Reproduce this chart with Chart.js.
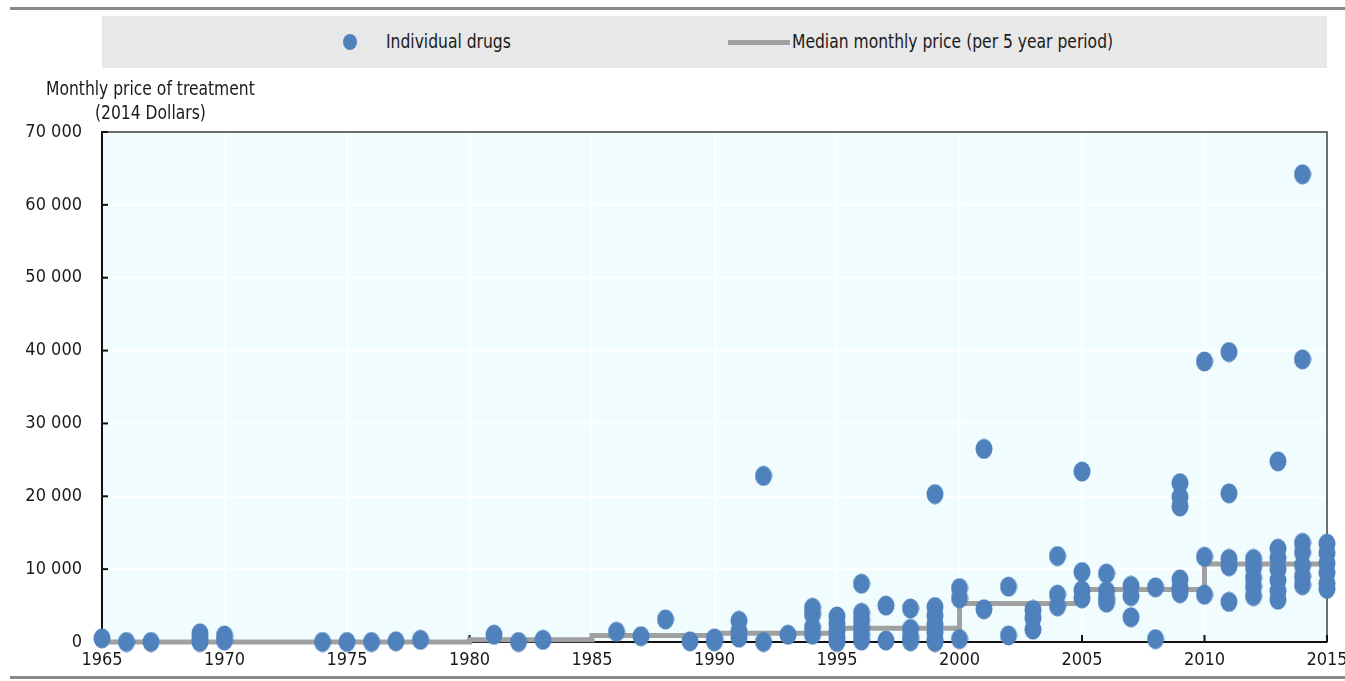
<!DOCTYPE html>
<html>
<head>
<meta charset="utf-8">
<script src="https://cdn.jsdelivr.net/npm/chart.js@4/dist/chart.umd.min.js"></script>
<style>
    body { margin: 0; background: #fff; font-family: "Liberation Sans Narrow", "DejaVu Sans Condensed", "Liberation Sans", sans-serif; color: #1a1a1a; }
    #wrap { position: absolute; left: 0; top: 0; width: 1345px; height: 681px; }
    .rule { position: absolute; left: 10px; right: 0; height: 3px; background: #8a8a8a; }
    .box { position: absolute; }
    .lbl { position: absolute; white-space: nowrap; font-size: 19px; transform: scaleX(0.91); transform-origin: 0 0; }
</style>
</head>
<body>
<div id="wrap">
    <canvas id="priceChart"></canvas>
</div>
<div class="rule" style="top:7px"></div>
<div class="rule" style="top:676px"></div>
<!-- legend -->
<div class="box" style="left:102px;top:16px;width:1225px;height:52px;background:#e8e8e8"></div>
<div class="box" style="left:343px;top:34px;width:14px;height:16px;border-radius:50%;background:#4f81bd"></div>
<div class="lbl" style="left:386px;top:30px">Individual drugs</div>
<div class="box" style="left:728px;top:40px;width:62px;height:5px;background:#a0a0a0"></div>
<div class="lbl" style="left:792px;top:30px">Median monthly price (per 5 year period)</div>
<!-- y axis title -->
<div class="lbl" style="left:46px;top:77px">Monthly price of treatment</div>
<div class="lbl" style="left:95px;top:101px">(2014 Dollars)</div>

<script>
// Launch year and monthly price (2014 USD) of each drug
const drugYears = [
    1965, 1966, 1967, 1969, 1969, 1969, 1970, 1970,
    1974, 1975, 1976, 1977, 1978,
    1981, 1982, 1983, 1986, 1987, 1988, 1989, 1990, 1990,
    1991, 1991, 1991, 1992, 1992, 1993,
    1994, 1994, 1994, 1994,
    1995, 1995, 1995, 1995, 1995,
    1996, 1996, 1996, 1996, 1996, 1996,
    1997, 1997, 1998, 1998, 1998, 1998,
    1999, 1999, 1999, 1999, 1999, 1999, 1999,
    2000, 2000, 2000, 2001, 2001, 2002, 2002,
    2003, 2003, 2003, 2004, 2004, 2004,
    2005, 2005, 2005, 2005, 2006, 2006, 2006, 2006,
    2007, 2007, 2007, 2008, 2008,
    2009, 2009, 2009, 2009, 2009, 2009,
    2010, 2010, 2010, 2011, 2011, 2011, 2011, 2011,
    2012, 2012, 2012, 2012, 2012,
    2013, 2013, 2013, 2013, 2013, 2013, 2013,
    2014, 2014, 2014, 2014, 2014, 2014, 2014,
    2015, 2015, 2015, 2015, 2015, 2015
];
const drugPrices = [
    500, 0, 0, 1200, 600, 0, 900, 200,
    0, 0, 0, 100, 300,
    1000, 0, 300, 1400, 800, 3100, 100, 500, 100,
    2900, 1500, 600, 22800, 0, 1000,
    4700, 3800, 2000, 1000,
    3500, 2500, 1500, 600, 0,
    8000, 4000, 3000, 2000, 1000, 200,
    5000, 200, 4600, 1800, 700, 100,
    20300, 4800, 3600, 2400, 1300, 300, 0,
    7400, 6000, 400, 26500, 4500, 7600, 900,
    4400, 3300, 1700, 11800, 6500, 4900,
    23400, 9600, 7100, 6000, 9400, 7000, 6000, 5400,
    7700, 6300, 3400, 7500, 400,
    21800, 19900, 18600, 8600, 7400, 6700,
    38500, 11700, 6500, 39800, 20400, 11400, 10400, 5500,
    11400, 10200, 8800, 7600, 6300,
    24800, 12800, 11500, 10000, 8500, 7000, 5800,
    64200, 38800, 13600, 12300, 10500, 9000, 7800,
    13500, 12200, 10800, 9500, 8000, 7300
];

// Median monthly price, one value per 5 year period (step starts)
const medianYears = [1965, 1970, 1975, 1980, 1985, 1990, 1995, 2000, 2005, 2010, 2015];
const medianPrices = [0, 0, 0, 300, 900, 1200, 1900, 5300, 7200, 10700, 10700];

const yearTicks = [1965, 1970, 1975, 1980, 1985, 1990, 1995, 2000, 2005, 2010, 2015];

const FONT = '"Liberation Sans Narrow", "DejaVu Sans Condensed", "Liberation Sans", sans-serif';

// slightly tall oval marker, like the original
const dot = document.createElement('canvas');
dot.width = 18;
dot.height = 21;
const dctx = dot.getContext('2d');
dctx.fillStyle = '#4f81bd';
dctx.beginPath();
dctx.ellipse(9, 10.5, 8.5, 10, 0, 0, Math.PI * 2);
dctx.fill();

// plot background + inner tick marks + top/right frame
const framePlugin = {
    id: 'frame',
    beforeDraw(chart) {
        const a = chart.chartArea, ctx = chart.ctx;
        ctx.save();
        ctx.fillStyle = '#f1fcfe';
        ctx.fillRect(a.left, a.top, a.right - a.left, a.bottom - a.top);
        ctx.restore();
    },
    beforeDatasetsDraw(chart) {
        const a = chart.chartArea, ctx = chart.ctx;
        ctx.save();
        ctx.strokeStyle = '#6e6e6e';
        ctx.lineWidth = 2;
        ctx.beginPath();
        ctx.moveTo(a.left, a.top);
        ctx.lineTo(a.right, a.top);
        ctx.lineTo(a.right, a.bottom);
        ctx.stroke();
        ctx.strokeStyle = '#111';
        const ys = chart.scales.y;
        ys.ticks.forEach(t => {
            const py = ys.getPixelForValue(t.value);
            ctx.beginPath();
            ctx.moveTo(a.left, py);
            ctx.lineTo(a.left + 6, py);
            ctx.stroke();
        });
        const xs = chart.scales.x;
        xs.ticks.forEach(t => {
            const px = xs.getPixelForValue(t.value);
            ctx.beginPath();
            ctx.moveTo(px, a.bottom);
            ctx.lineTo(px, a.bottom - 7);
            ctx.stroke();
        });
        ctx.restore();
    }
};

new Chart(document.getElementById('priceChart'), {
    data: {
        datasets: [
            {
                type: 'scatter',
                label: 'Individual drugs',
                data: drugYears.map((yr, i) => ({ x: yr, y: drugPrices[i] })),
                pointStyle: dot,
                pointRadius: 9,
                pointHoverRadius: 9,
                clip: false,
                order: 1
            },
            {
                type: 'line',
                label: 'Median monthly price (per 5 year period)',
                data: medianYears.map((yr, i) => ({ x: yr, y: medianPrices[i] })),
                borderColor: '#a0a0a0',
                borderWidth: 5,
                pointRadius: 0,
                stepped: 'before',
                fill: false,
                clip: false,
                order: 2
            }
        ]
    },
    options: {
        responsive: true,
        maintainAspectRatio: false,
        animation: false,
        layout: { padding: { left: 0, top: 132, right: 18, bottom: 0 } },
        plugins: {
            legend: { display: false },
            tooltip: { enabled: false }
        },
        scales: {
            x: {
                type: 'linear',
                min: 1965,
                max: 2015,
                afterBuildTicks: scale => { scale.ticks = yearTicks.map(v => ({ value: v })); },
                afterFit: scale => {
                    scale.height = 39;
                    scale.paddingLeft = 0;
                    scale.paddingRight = 0;
                },
                grid: { color: '#ffffff', lineWidth: 1.5, drawTicks: false },
                border: { color: '#111', width: 2 },
                ticks: {
                    color: '#1a1a1a',
                    font: { family: FONT, size: 18 },
                    padding: 8,
                    maxRotation: 0,
                    callback: v => String(v)
                }
            },
            y: {
                min: 0,
                max: 70000,
                afterFit: scale => { scale.width = 102; },
                grid: { color: '#ffffff', lineWidth: 1.5, drawTicks: false },
                border: { color: '#111', width: 2 },
                ticks: {
                    stepSize: 10000,
                    color: '#1a1a1a',
                    font: { family: FONT, size: 18 },
                    padding: 20,
                    callback: v => v === 0 ? '0' : (v / 1000) + ' 000'
                }
            }
        }
    },
    plugins: [framePlugin]
});
</script>
</body>
</html>
